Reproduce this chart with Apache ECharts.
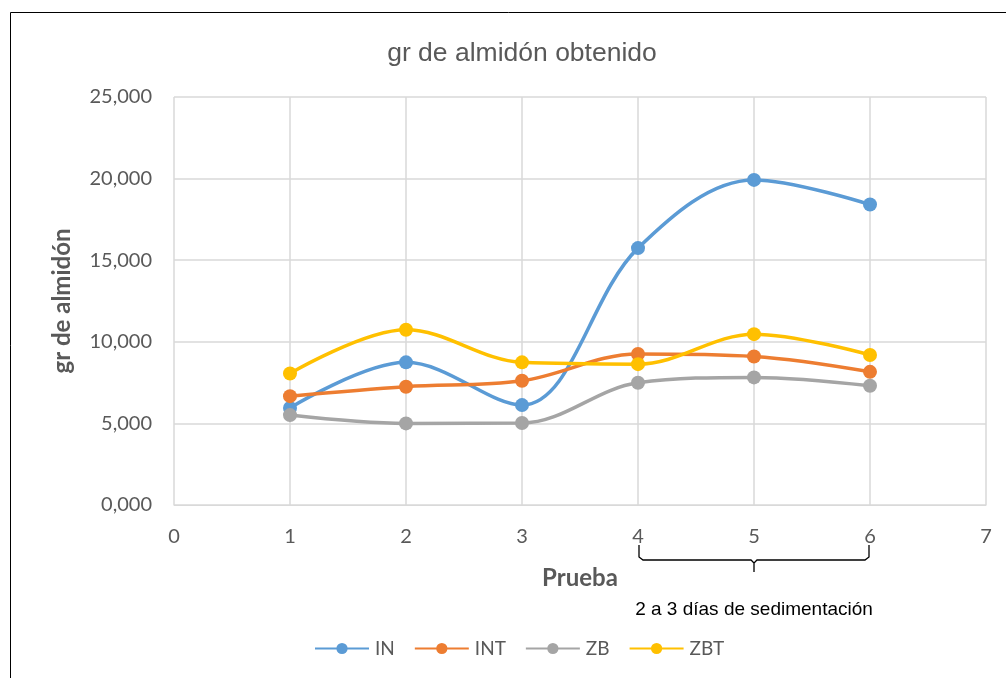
<!DOCTYPE html>
<html><head><meta charset="utf-8">
<script src="https://cdn.jsdelivr.net/npm/echarts@6/dist/echarts.min.js"></script>
<style>html,body{margin:0;padding:0;background:#fff}#c{width:1006px;height:678px}</style>
</head><body><div id="c"></div>
<script>
const pruebas = [1, 2, 3, 4, 5, 6];
const IN  = [5.95, 8.74, 6.12, 15.74, 19.92, 18.41];
const INT = [6.67, 7.25, 7.61, 9.25, 9.10, 8.16];
const ZB  = [5.51, 5.00, 5.02, 7.49, 7.82, 7.31];
const ZBT = [8.06, 10.74, 8.74, 8.63, 10.47, 9.19];
const seriesNames = ['IN', 'INT', 'ZB', 'ZBT'];
const colors = ['#5B9BD5', '#ED7D31', '#A5A5A5', '#FFC000'];
const bracketRange = [4, 6];
const bracketLabel = '2 a 3 días de sedimentación';
const FONT = 'Lato, "Open Sans", sans-serif';
const ARIAL = '"Liberation Sans", Arial, sans-serif';

const chart = echarts.init(document.getElementById('c'), null, {renderer: 'canvas'});
const datas = [IN, INT, ZB, ZBT];
const series = datas.map((d, i) => ({
  name: seriesNames[i], type: 'line', smooth: 0.35,
  data: d.map((v, j) => [pruebas[j], v]),
  symbol: 'circle', symbolSize: 14,
  lineStyle: {width: 3.5, color: colors[i]},
  itemStyle: {color: colors[i]},
  z: 2
}));
chart.setOption({
  animation: false,
  color: colors,
  title: {text: 'gr de almidón obtenido', left: 517, textAlign: 'center', top: 35,
    textStyle: {fontFamily: ARIAL, fontSize: 26.5, fontWeight: 'normal', color: '#595959'}},
  grid: {left: 174, right: 20, top: 97, bottom: 173},
  legend: {bottom: 20, left: 314, padding: 0, itemWidth: 54, itemHeight: 14, itemGap: 19,
    textStyle: {fontFamily: FONT, fontSize: 19, color: '#595959', padding: [0, 0, 0, 1]},
    data: seriesNames.map(n => ({name: n}))},
  xAxis: {type: 'value', min: 0, max: 7, interval: 1,
    name: 'Prueba', nameLocation: 'middle', nameGap: 61,
    nameTextStyle: {fontFamily: FONT, fontSize: 24, fontWeight: 'bold', color: '#595959'},
    axisLine: {show: true, lineStyle: {color: '#d9d9d9', width: 1}},
    axisTick: {show: false},
    axisLabel: {fontFamily: FONT, fontSize: 20, color: '#595959', margin: 22},
    splitLine: {show: true, lineStyle: {color: '#d9d9d9', width: 1.5}}},
  yAxis: {type: 'value', min: 0, max: 25, interval: 5,
    name: 'gr de almidón', nameLocation: 'middle', nameGap: 100, nameRotate: 90,
    nameTextStyle: {fontFamily: FONT, fontSize: 24, fontWeight: 'bold', color: '#595959'},
    axisLine: {show: false}, axisTick: {show: false},
    axisLabel: {fontFamily: FONT, fontSize: 20, color: '#595959', margin: 22,
      formatter: v => v.toFixed(3).replace('.', ',')},
    splitLine: {show: true, lineStyle: {color: '#d9d9d9', width: 1.5}}},
  series: series
});

const pA = chart.convertToPixel({gridIndex: 0}, [bracketRange[0], 0]);
const pB = chart.convertToPixel({gridIndex: 0}, [bracketRange[1], 0]);
const mid = (pA[0] + pB[0]) / 2;
const by = pA[1] + 55;
chart.setOption({graphic: [
  {type: 'rect', shape: {x: 10.5, y: 12.5, width: 1100, height: 800},
    style: {fill: 'none', stroke: '#000', lineWidth: 1}, silent: true},
  {type: 'polyline', shape: {points: [[pA[0] + 1, by - 15], [pA[0] + 1, by - 3], [pA[0] + 5, by], [mid - 3, by], [mid, by + 3], [mid, by + 12], [mid, by + 3], [mid + 3, by], [pB[0] - 5, by], [pB[0] - 1, by - 3], [pB[0] - 1, by - 15]]},
    style: {fill: 'none', stroke: '#000', lineWidth: 1.3}, silent: true},
  {type: 'text', x: mid, y: by + 50, style: {text: bracketLabel, fontFamily: ARIAL, fontSize: 19, fill: '#000', align: 'center', verticalAlign: 'middle'}}
]});
</script></body></html>
